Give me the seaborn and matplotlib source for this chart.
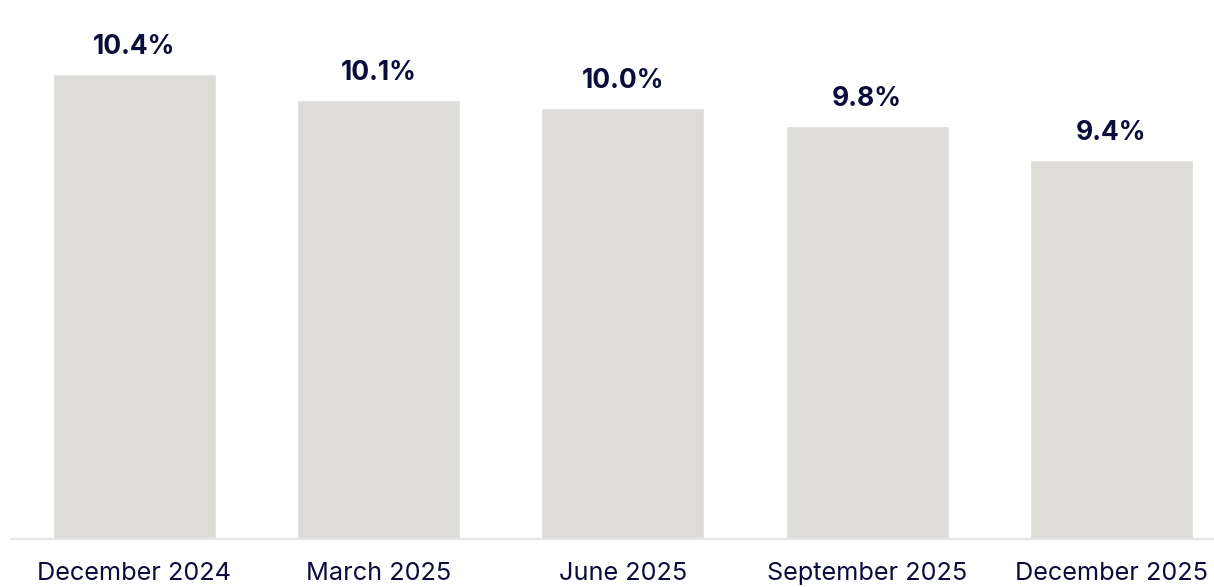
import matplotlib
matplotlib.use("Agg")
import matplotlib.pyplot as plt
import seaborn as sns
import pandas as pd

categories = ["December 2024", "March 2025", "June 2025", "September 2025", "December 2025"]
values = [10.4, 10.1, 10.0, 9.8, 9.4]
value_labels = ["10.4%", "10.1%", "10.0%", "9.8%", "9.4%"]

sns.set_theme(style="white")
plt.rcParams['font.family'] = ['Inter', 'DejaVu Sans']

navy = "#0b0c3b"
bar_color = "#dedcd8"

df = pd.DataFrame({"period": categories, "rate": values})

fig = plt.figure(figsize=(12.14, 5.87), dpi=100)
W, H = 1214, 587
left, right, top, bottom = 12.3, 1214, 0, 538.5
ax = fig.add_axes([left / W, 1 - bottom / H, (right - left) / W, (bottom - top) / H])

sns.barplot(data=df, x="period", y="rate", color=bar_color, width=0.667,
            saturation=1, ax=ax)

ax.set_xlim(-0.5, 4.42)
ax.set_ylim(5.0, 11.26)

ax.bar_label(ax.containers[0], labels=value_labels, padding=10, fontsize=19,
             fontweight="bold", color=navy)

ax.set_xlabel("")
ax.set_ylabel("")
ax.set_yticks([])
ax.tick_params(axis="x", length=0, pad=17, labelsize=18.2, labelcolor=navy)
for s in ["top", "right", "left"]:
    ax.spines[s].set_visible(False)
ax.spines["bottom"].set_color("#e6e6e6")
ax.spines["bottom"].set_linewidth(1.5)

fig.savefig("out.png", dpi=100)
